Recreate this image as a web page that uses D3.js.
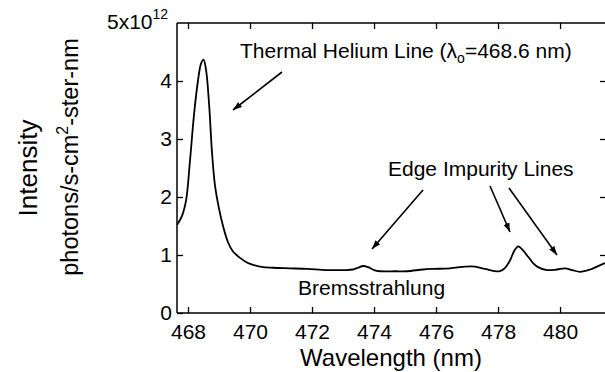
<!DOCTYPE html>
<html><head><meta charset="utf-8">
<script src="https://cdn.jsdelivr.net/npm/d3@7"></script>
<style>body{margin:0;background:#fff}svg{display:block;font-family:"Liberation Sans",Arial,sans-serif}</style>
</head><body><svg id="c" width="605" height="372"></svg>
<script>
const wavelength = [467.65,467.81,467.94,468.06,468.19,468.32,468.42,468.50,468.58,468.68,468.77,468.87,469.00,469.13,469.29,469.45,469.68,469.90,470.10,470.42,470.74,471.29,471.84,472.48,473.06,473.32,473.48,473.65,473.81,474.00,474.19,474.68,475.06,475.58,475.90,476.45,476.94,477.26,477.58,478.06,478.23,478.39,478.52,478.65,478.77,478.97,479.13,479.26,479.58,479.90,480.16,480.39,480.65,480.97,481.19,481.45];
const intensity = [1.52,1.68,1.95,2.6,3.4,4.0,4.3,4.37,4.2,3.6,2.8,2.2,1.8,1.5,1.22,1.06,0.95,0.87,0.83,0.79,0.78,0.77,0.76,0.74,0.74,0.75,0.78,0.81,0.79,0.74,0.72,0.72,0.72,0.75,0.76,0.77,0.80,0.80,0.76,0.72,0.78,0.91,1.07,1.15,1.10,0.97,0.86,0.80,0.74,0.75,0.77,0.74,0.71,0.75,0.80,0.86];
const xTicks = [468,470,472,474,476,478,480];
const yTicks = [0,1,2,3,4];
const xDomain = [467.645, 481.45];
const yDomain = [0, 5];

const svg = d3.select("#c");
const L = 177, R = 605, T = 23, B = 313;
const x = d3.scaleLinear().domain(xDomain).range([L, R]);
const y = d3.scaleLinear().domain(yDomain).range([B, T]);
const fs = 21;
const FF = "Liberation Sans";

// frame
const g = svg.append("g");
g.append("line").attr("x1",L).attr("x2",L).attr("y1",T).attr("y2",B).attr("stroke","#000").attr("stroke-width",1.5);
g.append("line").attr("x1",L).attr("x2",R).attr("y1",B).attr("y2",B).attr("stroke","#000").attr("stroke-width",1.5);
g.append("line").attr("x1",L).attr("x2",R).attr("y1",T).attr("y2",T).attr("stroke","#000").attr("stroke-width",1.5);

// bottom axis
const xb = d3.axisBottom(x).tickValues(xTicks).tickSize(-6).tickPadding(11).tickFormat(d3.format("d"));
const gx = svg.append("g").attr("transform",`translate(0,${B})`).call(xb);
gx.select(".domain").remove();
gx.selectAll("line").attr("stroke-width",1.3);
gx.selectAll("text").attr("font-size",fs).attr("font-family",FF).attr("fill","#000");
// top axis
const xt = d3.axisTop(x).tickValues(xTicks).tickSize(-6).tickFormat("");
const gt = svg.append("g").attr("transform",`translate(0,${T})`).call(xt);
gt.select(".domain").remove();
gt.selectAll("line").attr("stroke-width",1.3);
// left axis
const yl = d3.axisLeft(y).tickValues(yTicks).tickSize(-6).tickPadding(5).tickFormat(d3.format("d"));
const gy = svg.append("g").attr("transform",`translate(${L},0)`).call(yl);
gy.select(".domain").remove();
gy.selectAll("line").attr("stroke-width",1.3);
gy.selectAll("text").attr("font-size",fs).attr("font-family",FF).attr("fill","#000").attr("x",-5);
// right axis
const yr = d3.axisRight(y).tickValues(yTicks.slice(1)).tickSize(-5).tickFormat("");
const gr = svg.append("g").attr("transform",`translate(${R},0)`).call(yr);
gr.select(".domain").remove();
gr.selectAll("line").attr("stroke-width",1.3);

// top label 5x10^12
const topLbl = svg.append("text").attr("x",107).attr("y",29).attr("font-size",fs);
topLbl.append("tspan").text("5x10");
topLbl.append("tspan").attr("dy",-10).attr("font-size",14).text("12");

// curve
const line = d3.line().x((d,i)=>x(wavelength[i])).y(d=>y(d)).curve(d3.curveCatmullRom.alpha(0.5));
svg.append("path").datum(intensity).attr("d",line).attr("fill","none").attr("stroke","#000").attr("stroke-width",1.8);

// axis titles
svg.append("text").attr("x",391).attr("y",366).attr("text-anchor","middle").attr("font-size",24).text("Wavelength (nm)");
svg.append("text").attr("transform","translate(37,168) rotate(-90)").attr("text-anchor","middle").attr("font-size",26).text("Intensity");
const u = svg.append("text").attr("transform","translate(78,157) rotate(-90)").attr("text-anchor","middle").attr("font-size",23.5);
u.append("tspan").text("photons/s-cm");
u.append("tspan").attr("dy",-10).attr("font-size",16).text("2");
u.append("tspan").attr("dy",10).text("-ster-nm");

// annotations
const th = svg.append("text").attr("x",240).attr("y",58).attr("font-size",fs);
th.append("tspan").text("Thermal Helium Line (λ");
th.append("tspan").attr("dy",5).attr("font-size",14).text("o");
th.append("tspan").attr("dy",-5).text("=468.6 nm)");
svg.append("text").attr("x",388).attr("y",176).attr("font-size",fs).text("Edge Impurity Lines");
svg.append("text").attr("x",298).attr("y",295).attr("font-size",fs).text("Bremsstrahlung");

// arrows
svg.append("defs").append("marker").attr("id","ah").attr("viewBox","0 0 10 10").attr("refX",10).attr("refY",5)
  .attr("markerWidth",9).attr("markerHeight",9).attr("markerUnits","userSpaceOnUse").attr("orient","auto")
  .append("path").attr("d","M0,1.5 L10,5 L0,8.5 Z").attr("fill","#000");
const arrows = [[282,72,233,110],[423,190,372,249],[490,186,510,232],[509,188,557,255]];
svg.selectAll(".arr").data(arrows).enter().append("line").attr("class","arr")
  .attr("x1",d=>d[0]).attr("y1",d=>d[1]).attr("x2",d=>d[2]).attr("y2",d=>d[3])
  .attr("stroke","#000").attr("stroke-width",1.6).attr("marker-end","url(#ah)");
</script></body></html>
